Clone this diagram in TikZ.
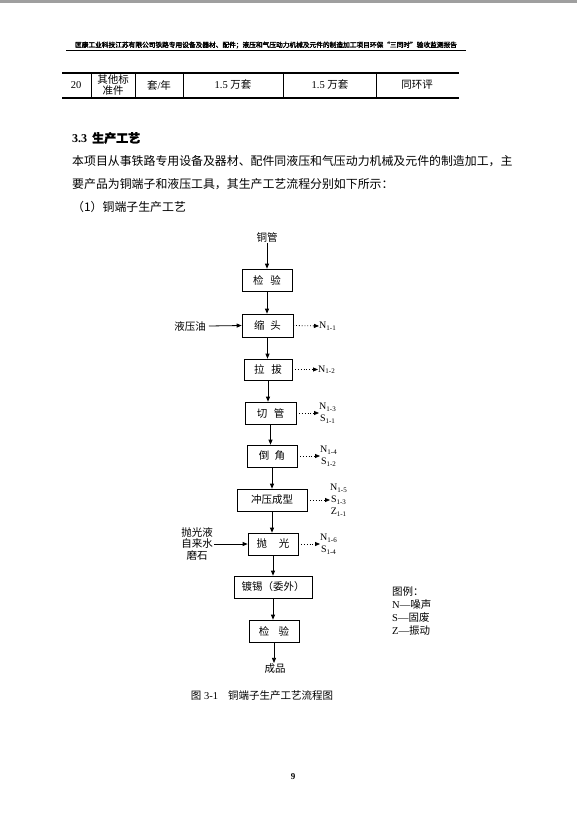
\documentclass[tikz,border=0pt]{standalone}
\usepackage{fontspec}
\setmainfont{Liberation Serif}
\newfontfamily\cjk{Noto Sans CJK SC}
\newfontfamily\cjkbold{Noto Sans CJK SC}[FakeBold=2.5]
\newfontfamily\cjkmed{Noto Sans CJK SC}[FakeBold=1.2]
\usetikzlibrary{arrows.meta}
\newcommand{\fs}[2]{\fontsize{#1}{#2}\selectfont}
\begin{document}
\begin{tikzpicture}[x=1pt,y=-1pt,
  box/.style={draw, line width=0.7pt, minimum height=22pt, inner sep=0pt, font=\cjk\fs{10.5}{12}},
  arr/.style={-{Triangle[length=5pt,width=4pt]}, line width=0.8pt},
  darr/.style={arr, dotted},
  lbl/.style={font=\fs{10}{12}, align=center, inner sep=0pt, anchor=west},
  txt/.style={font=\cjk\fs{10.5}{12}, inner sep=1pt},
  body/.style={font=\cjk\fs{11.9}{14}, inner sep=0pt, anchor=west},
  tline/.style={line width=1.2pt},
  vline/.style={line width=0.6pt}
]
\useasboundingbox (0,0) rectangle (577,817);
\fill[white] (0,0) rectangle (577,817);
\fill[gray!75] (0,0) rectangle (577,3);

% header
\node[font=\cjkbold\fs{6.7}{8}, inner sep=0pt] (hdr) at (266,45) {匡康工业科技江苏有限公司铁路专用设备及器材、配件；液压和气压动力机械及元件的制造加工项目环保“三同时”验收监测报告};
\draw[line width=0.9pt] (66,50) -- (466,50);

% table
\draw[tline] (62,73) -- (459,73);
\draw[tline] (62,98) -- (459,98);
\foreach \xx in {91,135,183,283,376} \draw[vline] (\xx,73) -- (\xx,98);
\node[font=\fs{10.5}{12}] (c1) at (76,85) {20};
\node[font=\cjk\fs{10.5}{11.5}, align=center] (c2) at (113,85) {其他标\\准件};
\node[font=\fs{10.5}{12}] (c3) at (159,85) {{\cjk 套}/{\cjk 年}};
\node[font=\fs{10.5}{12}] (c4) at (233,85) {1.5 {\cjk 万套}};
\node[font=\fs{10.5}{12}] (c5) at (330,85) {1.5 {\cjk 万套}};
\node[font=\cjk\fs{10.5}{12}] (c6) at (417,85) {同环评};

% section text
\node[body, font=\bfseries\fs{12}{14}] (sec) at (72,138) {3.3\hspace{5pt}{\cjkmed 生产工艺}};
\node[body] (p1) at (72,161) {本项目从事铁路专用设备及器材、配件同液压和气压动力机械及元件的制造加工，主};
\node[body] (p2) at (72,184) {要产品为铜端子和液压工具，其生产工艺流程分别如下所示：};
\node[body] (p3) at (72,207) {（1）铜端子生产工艺};

% flowchart
\node[txt] (tg) at (267,237) {铜管};
\node[box, minimum width=50pt] (jy1) at (267,280) {检\hspace{7pt}验};
\node[box, minimum width=51pt, minimum height=23pt] (st) at (267.5,325.5) {缩\hspace{6pt}头};
\node[box, minimum width=48pt, minimum height=21pt] (lb) at (268,369.5) {拉\hspace{7pt}拔};
\node[box, minimum width=51pt] (qg) at (270.5,413) {切\hspace{6.5pt}管};
\node[box, minimum width=50pt] (dj) at (272,456) {倒\hspace{5.5pt}角};
\node[box, minimum width=70pt] (cy) at (272,500) {冲压成型};
\node[box, minimum width=50pt] (pg) at (273,544) {抛\hspace{12pt}光};
\node[box, minimum width=78pt] (dx) at (273,587) {镀锡（委外）};
\node[box, minimum width=50pt] (jy2) at (274,631) {检\hspace{9.5pt}验};
\node[txt] (cp) at (275,669) {成品};

\draw[arr] (tg.south) -- (jy1.north);
\draw[arr] (jy1.south) -- (jy1.south |- st.north);
\draw[arr] (st.south) -- (st.south |- lb.north);
\draw[arr] (lb.south) -- (lb.south |- qg.north);
\draw[arr] (qg.south) -- (qg.south |- dj.north);
\draw[arr] (dj.south) -- (dj.south |- cy.north);
\draw[arr] (cy.south) -- (cy.south |- pg.north);
\draw[arr] (pg.south) -- (pg.south |- dx.north);
\draw[arr] (dx.south) -- (dx.south |- jy2.north);
\draw[arr] (jy2.south) -- (jy2.south |- cp.north);

% inputs
\node[txt, inner sep=3pt] (yyy) at (190,326) {液压油};
\draw[arr] (yyy.east) -- (st.west);
\node[txt, align=center, font=\cjk\fs{10.5}{11.5}] (pgy) at (197,544) {抛光液\\自来水\\磨石};
\draw[arr] (pgy.east) -- (pg.west);

% outputs
\node[lbl] (o1) at (319,326) {N\textsubscript{1-1}};
\draw[darr] (st.east) -- (o1.west);
\node[lbl] (o2) at (318,369.5) {N\textsubscript{1-2}};
\draw[darr] (lb.east) -- (o2.west);
\node[lbl] (o3) at (319,413) {N\textsubscript{1-3}\\S\textsubscript{1-1}};
\draw[darr] (qg.east) -- (o3.west);
\node[lbl] (o4) at (320,456) {N\textsubscript{1-4}\\S\textsubscript{1-2}};
\draw[darr] (dj.east) -- (o4.west);
\node[lbl] (o5) at (330,500) {N\textsubscript{1-5}\\S\textsubscript{1-3}\\Z\textsubscript{1-1}};
\draw[darr] (cy.east) -- (o5.west);
\node[lbl] (o6) at (320,544) {N\textsubscript{1-6}\\S\textsubscript{1-4}};
\draw[darr] (pg.east) -- (o6.west);

% legend
\node[font=\fs{10.5}{13.3}, align=left, anchor=north west, inner sep=0pt] (leg) at (392,586) {{\cjk 图例：}\\N—{\cjk 噪声}\\S—{\cjk 固废}\\Z—{\cjk 振动}};

% caption
\node[font=\fs{10.5}{12}, inner sep=0pt] (cap) at (262,696) {{\cjk 图} 3-1\hspace{10pt}{\cjk 铜端子生产工艺流程图}};

% page number
\node[font=\bfseries\fs{9}{10}] (pn) at (293,777) {9};
\end{tikzpicture}
\end{document}
